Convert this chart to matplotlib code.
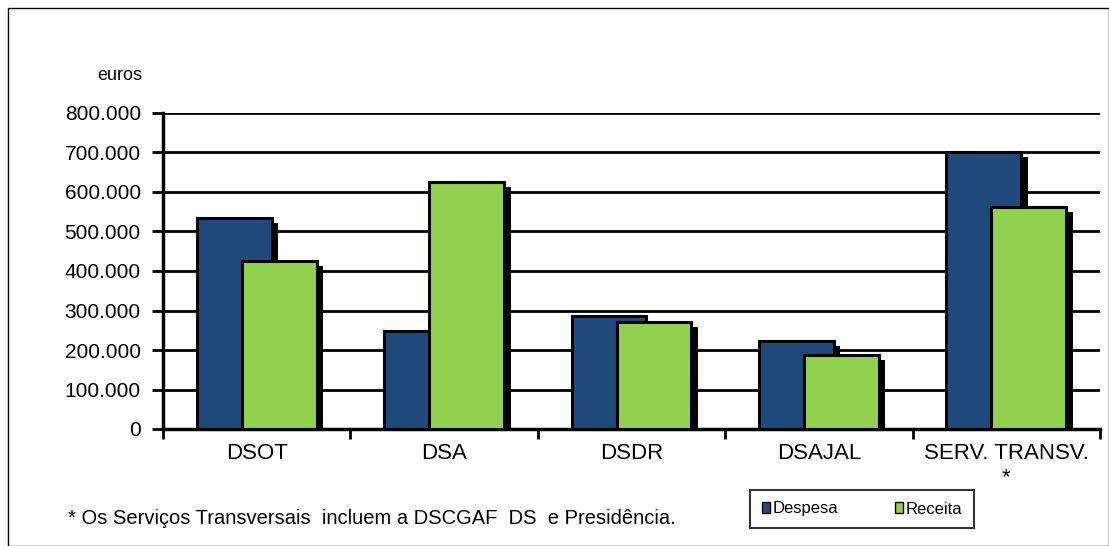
import matplotlib.pyplot as plt
from matplotlib.patches import Rectangle
from matplotlib.ticker import FuncFormatter
import numpy as np

plt.rcParams['font.family'] = ['Liberation Sans', 'DejaVu Sans']

categories = ["DSOT", "DSA", "DSDR", "DSAJAL", "SERV. TRANSV.\n*"]
despesa = [534000, 248000, 286000, 223000, 701000]
receita = [425000, 625000, 271000, 187000, 562000]

col_desp = "#214a7c"
col_rec = "#92d050"

fig = plt.figure(figsize=(11.09, 5.46), dpi=100)
ax = fig.add_axes((163 / 1109, 117 / 546, 937 / 1109, 316 / 546))

x = np.arange(len(categories))
w = 0.40
off = 0.12

# shadows first
sx, sy = 0.035, 12000
for xi, d, r in zip(x, despesa, receita):
    ax.bar(xi - off + sx, d - sy, w, color="black", zorder=2)
    ax.bar(xi + off + sx, r - sy, w, color="black", zorder=2)

ax.bar(x - off, despesa, w, color=col_desp, edgecolor="black", linewidth=2.2,
       label="Despesa", zorder=3)
ax.bar(x + off, receita, w, color=col_rec, edgecolor="black", linewidth=2.2,
       label="Receita", zorder=4)

ax.set_xlim(-0.5, len(categories) - 0.5)
ax.set_ylim(0, 800000)
ax.set_yticks(range(0, 800001, 100000))
ax.yaxis.set_major_formatter(FuncFormatter(lambda v, p: f"{int(v):,}".replace(",", ".")))
ax.yaxis.grid(True, color="black", linewidth=2)
ax.set_axisbelow(True)

ax.set_xticks(x)
ax.set_xticklabels(categories, fontsize=16)
ax.set_xticks(np.arange(-0.5, len(categories)), minor=True)
ax.tick_params(axis="x", which="major", length=0, pad=10)
ax.tick_params(axis="x", which="minor", length=7, width=2, direction="out")
ax.tick_params(axis="y", labelsize=15, length=8, width=2, pad=8)

for s in ["top", "right"]:
    ax.spines[s].set_visible(False)
ax.spines["left"].set_linewidth(2.5)
ax.spines["bottom"].set_linewidth(2.5)

fig.text(97 / 1109, 1 - 76 / 546, "euros", fontsize=13, ha="left", va="center")
fig.text(68 / 1109, 1 - 518 / 546,
         "* Os Serviços Transversais  incluem a DSCGAF  DS  e Presidência.",
         fontsize=14.5, ha="left", va="center")

leg = fig.legend(loc="center", bbox_to_anchor=(862 / 1109, 1 - 509 / 546), ncol=2,
                 fontsize=12, frameon=True, fancybox=False, edgecolor="black",
                 handlelength=0.5, handleheight=0.6, handletextpad=0.15,
                 columnspacing=3.4, borderpad=0.7, borderaxespad=0)
leg.get_frame().set_linewidth(1.5)
for h in leg.legend_handles:
    h.set_linewidth(1)

fig.patches.append(Rectangle((8 / 1109, 0), 1 - 8 / 1109, 1 - 8 / 546,
                             transform=fig.transFigure, fill=False,
                             edgecolor="black", linewidth=1))

fig.savefig("out.png", dpi=100)
